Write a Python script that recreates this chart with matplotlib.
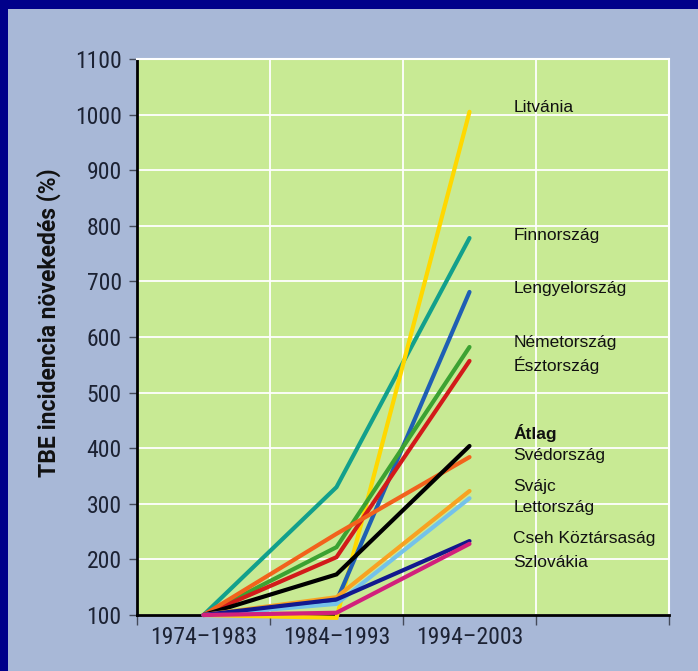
import matplotlib.pyplot as plt
from matplotlib.patches import Rectangle

# TBE incidence growth per country, relative to 1974-1983 (= 100 %)
periods = ["1974\u20131983", "1984\u20131993", "1994\u20132003"]
countries = ["Finnország", "Litvánia", "Lengyelország", "Németország", "Észtország",
             "Svédország", "Átlag", "Svájc", "Lettország", "Cseh Köztársaság", "Szlovákia"]
values = {
    "Finnország":       [100, 330, 778],
    "Litvánia":         [100, 95, 1005],
    "Lengyelország":    [100, 125, 681],
    "Németország":      [100, 222, 582],
    "Észtország":       [100, 204, 557],
    "Svédország":       [100, 246, 384],
    "Átlag":            [100, 173, 404],
    "Svájc":            [100, 132, 323],
    "Lettország":       [100, 120, 310],
    "Cseh Köztársaság": [100, 128, 233],
    "Szlovákia":        [100, 104, 228],
}
colors = {
    "Finnország": "#12a08c", "Litvánia": "#ffd800", "Lengyelország": "#1f5fb4",
    "Németország": "#3ca232", "Észtország": "#d21a1a", "Svédország": "#f2621c",
    "Átlag": "#000000", "Svájc": "#f8a222", "Lettország": "#74c2ea",
    "Cseh Köztársaság": "#12188e", "Szlovákia": "#d2207c",
}

# right-hand name column, top to bottom, with its y position in data units
label_order = ["Litvánia", "Finnország", "Lengyelország", "Németország", "Észtország",
               "Átlag", "Svédország", "Svájc", "Lettország", "Cseh Köztársaság", "Szlovákia"]
label_y = [1012, 782, 688, 591, 550, 427, 386, 332, 294, 238, 195]

navy = "#00008a"
panel = "#a8b8d7"
green = "#c8ea94"
textc = "#1c2233"
narrow = ["Roboto Condensed", "Liberation Sans Narrow", "Liberation Sans"]

fig = plt.figure(figsize=(6.98, 6.71), dpi=100, facecolor=navy)
fig.patches.append(Rectangle((8 / 698, 0), 1, 1 - 9 / 671, transform=fig.transFigure,
                             facecolor=panel, edgecolor="none", zorder=-10))

ax = fig.add_axes([137 / 698, 1 - 615 / 671, 532 / 698, 556 / 671])
ax.set_facecolor(green)

x = [0.5, 1.5, 2.5]
for c in countries:
    ax.plot(x, values[c], color=colors[c], lw=3.0, solid_capstyle="round",
            solid_joinstyle="miter", clip_on=False, zorder=3)

for name, yv in zip(label_order, label_y):
    ax.text(2.83, yv, name, fontsize=12.5, family="Liberation Sans", color="#111111",
            fontweight="bold" if name == "Átlag" else "normal", va="center", ha="left")

ax.set_xlim(0, 4)
ax.set_ylim(100, 1100)
ax.set_yticks(range(100, 1101, 100))
ax.set_xticks([0, 1, 2, 3, 4])
ax.set_xticklabels([])
ax.set_xticks(x, minor=True)
ax.set_xticklabels(periods, minor=True)
ax.tick_params(axis="x", which="minor", length=0, pad=8)
ax.tick_params(axis="x", which="major", length=7, width=1, color="#444a5a")
ax.tick_params(axis="y", length=6, width=1, color="#444a5a", pad=5)
for lbl in ax.get_yticklabels() + ax.get_xticklabels(minor=True):
    lbl.set_family(narrow)
    lbl.set_fontsize(17)
    lbl.set_color(textc)

ax.grid(True, which="major", color="white", lw=1.3, zorder=1)
ax.set_axisbelow(True)
for s in ["top", "right"]:
    ax.spines[s].set_color("white")
    ax.spines[s].set_linewidth(1.5)
for s in ["left", "bottom"]:
    ax.spines[s].set_color("black")
    ax.spines[s].set_linewidth(2)

ax.set_ylabel("TBE incidencia növekedés (%)", family=["Roboto", "Liberation Sans"],
              fontweight="bold", fontsize=16.5, color="#111111")
ax.yaxis.set_label_coords(-0.142, 0.526)

fig.savefig("out.png", dpi=100, facecolor=navy)
